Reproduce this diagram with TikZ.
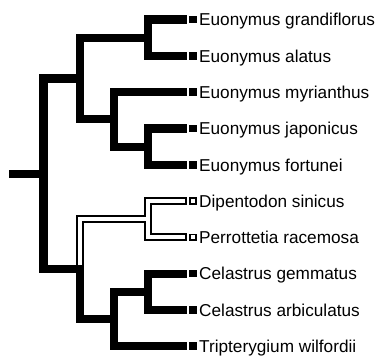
\documentclass[tikz,border=0pt]{standalone}
\usepackage{fontspec}
\setmainfont{Liberation Sans}
\begin{document}
\begin{tikzpicture}[x=1pt, y=-1pt,
  clade/.style={line width=8.2pt, line join=miter},
  hollow/.style={white, line width=4pt, line join=miter},
  tip/.style={draw=none, fill=black, minimum size=7.6pt, inner sep=0pt, outer sep=0pt},
  opentip/.style={draw=black, fill=white, line width=1.9pt, minimum size=5.7pt, inner sep=0pt, outer sep=0.95pt},
  taxon/.style={anchor=base west, inner sep=0pt, xshift=6pt, yshift=-6.3pt, font=\fontsize{17.2}{21}\selectfont}]

\useasboundingbox (0,0) rectangle (379,356);

% inner nodes
\coordinate (root) at (9.3,173.8);
\coordinate (n0) at (43.5,173.8);
\coordinate (nEu) at (80,78.5);
\coordinate (nEa) at (148,37.7);
\coordinate (nEb) at (114,119.3);
\coordinate (nEc) at (148,146.6);
\coordinate (nCe) at (80,269.1);
\coordinate (nDP) at (148,219.2);
\coordinate (nCa) at (114,319);
\coordinate (nCb) at (148,291.8);

% tips
\node[tip] (t1) at (193,19.5) {};
\node[tip] (t2) at (193,55.8) {};
\node[tip] (t3) at (193,92.1) {};
\node[tip] (t4) at (193,128.4) {};
\node[tip] (t5) at (193,164.7) {};
\node[opentip] (t6) at (193,201) {};
\node[opentip] (t7) at (193,237.3) {};
\node[tip] (t8) at (193,273.6) {};
\node[tip] (t9) at (193,309.9) {};
\node[tip] (t10) at (193,346.2) {};

% taxon names
\node[taxon] (l1) at (t1) {Euonymus grandiflorus};
\node[taxon] (l2) at (t2) {Euonymus alatus};
\node[taxon] (l3) at (t3) {Euonymus myrianthus};
\node[taxon] (l4) at (t4) {Euonymus japonicus};
\node[taxon] (l5) at (t5) {Euonymus fortunei};
\node[taxon] (l6) at (t6) {Dipentodon sinicus};
\node[taxon] (l7) at (t7) {Perrottetia racemosa};
\node[taxon] (l8) at (t8) {Celastrus gemmatus};
\node[taxon] (l9) at (t9) {Celastrus arbiculatus};
\node[taxon] (l10) at (t10) {Tripterygium wilfordii};

% branches
\draw[clade] (root) -- (n0);
\draw[clade] (n0) |- (nEu);
\draw[clade] (n0) |- (nCe);
\draw[clade] (nEu) |- (nEa);
\draw[clade] (nEu) |- (nEb);
\draw[clade, shorten >=2.6pt] (nEa) |- (t1);
\draw[clade, shorten >=2.6pt] (nEa) |- (t2);
\draw[clade, shorten >=2.6pt] (nEb) |- (t3);
\draw[clade] (nEb) |- (nEc);
\draw[clade, shorten >=2.6pt] (nEc) |- (t4);
\draw[clade, shorten >=2.6pt] (nEc) |- (t5);
\draw[clade] (nCe) |- (nDP);
\draw[clade] (nCe) |- (nCa);
\draw[clade, shorten >=2.6pt] (nDP) |- (t6);
\draw[clade, shorten >=2.6pt] (nDP) |- (t7);
\draw[clade] (nCa) |- (nCb);
\draw[clade, shorten >=2.6pt] (nCa) |- (t10);
\draw[clade, shorten >=2.6pt] (nCb) |- (t8);
\draw[clade, shorten >=2.6pt] (nCb) |- (t9);

% open branches
\draw[hollow, shorten <=4pt] (nCe) |- (nDP);
\draw[hollow, shorten >=4.7pt] (nDP) |- (t6);
\draw[hollow, shorten >=4.7pt] (nDP) |- (t7);

\end{tikzpicture}
\end{document}
